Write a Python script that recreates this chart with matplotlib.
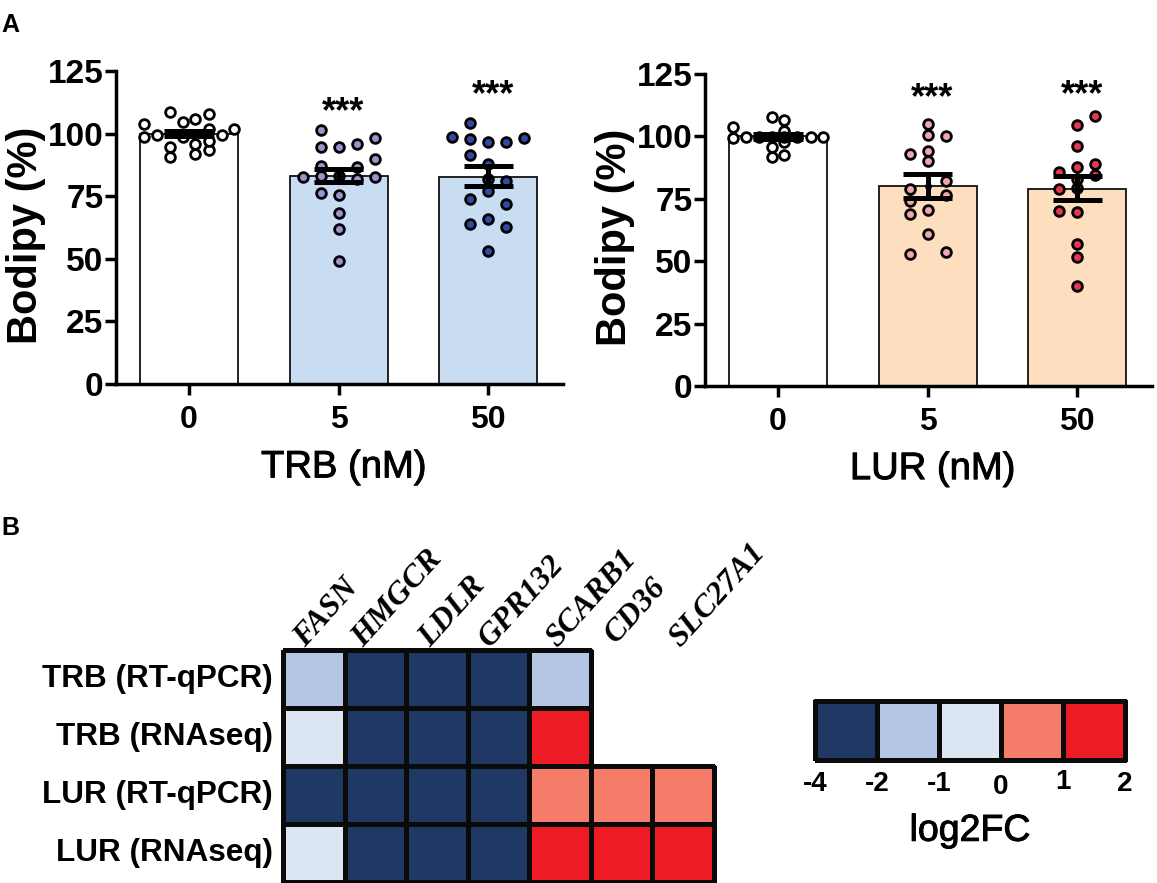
import numpy as np
import matplotlib
matplotlib.use("Agg")
import matplotlib.pyplot as plt
import matplotlib.patheffects as pe
from matplotlib.colors import ListedColormap, BoundaryNorm

plt.rcParams['font.family'] = ['Liberation Sans', 'DejaVu Sans']

W, H = 1157, 883

# donnees panel A
doses = ['0', '5', '50']
trb_means = [100, 83, 82.5]
trb_low = [99, 80.5, 79]
trb_high = [101, 86, 87]
lur_means = [100, 80, 79]
lur_low = [99, 75.5, 74.5]
lur_high = [101, 85, 84]

trb0_y = [103.7, 98.7, 99.5, 108.7, 104.8, 105.9, 107.7, 101.7, 99.5, 101.7, 94.7, 90.7, 95.7, 91.7, 93.3, 97, 98.7]
trb0_dx = [-.30, -.30, -.213, -.127, -.04, .043, .132, .132, .218, .304, -.127, -.127, .043, .043, .132, .132, -.04]
trb5_y = [101.5, 94.7, 94.7, 95.7, 98.1, 89.7, 87, 86.7, 82.7, 83, 83, 82, 82.7, 76.4, 75.5, 68.4, 62, 49]
trb5_dx = [-.12, -.12, 0, .12, .24, .24, -.12, .12, -.24, -.12, 0, .12, .24, -.12, 0, 0, 0, 0]
trb50_y = [104.3, 98.7, 97.7, 96.8, 96.8, 98.4, 91.5, 88, 81.7, 81, 77, 73.9, 72, 63.7, 65.7, 62.7, 53.3]
trb50_dx = [-.12, -.24, -.12, 0, .12, .24, -.12, 0, 0, .12, 0, -.12, .12, -.12, 0, .12, 0]

lur0_y = [103.9, 99.3, 99.6, 107.9, 106.7, 102.3, 95.6, 91.6, 97.6, 92.6, 99.6, 99.6, 99.6, 99.6, 99.6, 99.6]
lur0_dx = [-.30, -.30, -.216, -.04, .043, .043, -.04, -.04, .043, .043, .218, .304, -.127, -.04, .043, .13]
lur5_y = [105, 100.7, 100.3, 92.9, 94, 90, 82.2, 78.8, 76.4, 74.1, 69, 70.5, 60.7, 52.7, 53.6]
lur5_dx = [0, 0, .12, -.12, 0, 0, .12, -.12, .12, -.12, -.12, 0, 0, -.12, .12]
lur50_y = [108, 104.7, 96, 88.9, 87.8, 85.9, 84.6, 82.8, 79.2, 79.1, 70.1, 69.7, 57, 51.7, 40.2]
lur50_dx = [.12, 0, 0, .12, 0, -.12, .12, 0, 0, -.12, -.12, 0, 0, 0, 0]

# donnees panel B
genes = ['FASN', 'HMGCR', 'LDLR', 'GPR132', 'SCARB1', 'CD36', 'SLC27A1']
rows = ['TRB (RT-qPCR)', 'TRB (RNAseq)', 'LUR (RT-qPCR)', 'LUR (RNAseq)']
log2fc = np.array([
    [-1.5, -3, -3, -3, -1.5, np.nan, np.nan],
    [-0.5, -3, -3, -3, 1.5, np.nan, np.nan],
    [-3, -3, -3, -3, 0.5, 0.5, 0.5],
    [-0.5, -3, -3, -3, 1.5, 1.5, 1.5],
])
fc_bins = [-4, -2, -1, 0, 1, 2]
fc_colors = ['#1F3864', '#B4C6E3', '#DCE6F2', '#F47C68', '#ED1C24']

stroke = [pe.withStroke(linewidth=0.7, foreground='black')]


def px_axes(fig, x0, y0, x1, y1):
    # rectangle en pixels image (y vers le bas)
    return fig.add_axes([x0 / W, 1 - y1 / H, (x1 - x0) / W, (y1 - y0) / H])


def bar_panel(ax, means, low, high, ys, dxs, bar_cols, pt_cols, xlabel, stars):
    x = np.arange(3)
    ax.bar(x, means, width=0.655, color=bar_cols, edgecolor='#111111', linewidth=1.3, zorder=1)
    for i in range(3):
        xs = i + np.array(dxs[i])
        ax.plot(xs, ys[i], 'o', ms=7, mfc=pt_cols[i], mec='black', mew=2, zorder=2, clip_on=False)
        ax.plot([i - 0.165, i + 0.165], [low[i], low[i]], color='black', lw=3.6, zorder=3, solid_capstyle='butt')
        ax.plot([i - 0.165, i + 0.165], [high[i], high[i]], color='black', lw=3.6, zorder=3, solid_capstyle='butt')
        ax.plot([i, i], [low[i], high[i]], color='black', lw=3.6, zorder=3)
        ax.plot(i, means[i], 'o', ms=4, color='black', zorder=3)
    for i, y in stars:
        ax.text(i + 0.03, y, '***', ha='center', va='center', fontsize=26, fontweight='bold')
    ax.set_xlim(-0.488, 2.50)
    ax.set_ylim(0, 125)
    ax.set_xticks(x)
    ax.set_xticklabels(doses)
    ax.set_yticks([0, 25, 50, 75, 100, 125])
    ax.tick_params(axis='y', length=8, width=2.5, labelsize=24, pad=1)
    ax.tick_params(axis='x', length=8, width=2.5, labelsize=23, pad=7)
    for t in ax.get_xticklabels() + ax.get_yticklabels():
        t.set_fontweight('bold')
    ax.spines['top'].set_visible(False)
    ax.spines['right'].set_visible(False)
    ax.spines['left'].set_linewidth(2.5)
    ax.spines['bottom'].set_linewidth(2.5)
    ax.text(1.035, -33.3, xlabel, ha='center', va='center', fontsize=27.5, path_effects=stroke)
    ax.set_ylabel('Bodipy (%)', fontsize=30, fontweight='bold', labelpad=1, y=0.475)
    ax.patch.set_alpha(0)


fig = plt.figure(figsize=(W / 100, H / 100), dpi=100)

ax1 = px_axes(fig, 116, 71, 563, 384)
bar_panel(ax1, trb_means, trb_low, trb_high, [trb0_y, trb5_y, trb50_y], [trb0_dx, trb5_dx, trb50_dx],
          ['white', '#C9DDF2', '#C9DDF2'], ['white', '#9C94CE', '#2F4AA5'], 'TRB (nM)',
          [(1, 108.5), (2, 115)])

ax2 = px_axes(fig, 705, 74, 1152, 386)
bar_panel(ax2, lur_means, lur_low, lur_high, [lur0_y, lur5_y, lur50_y], [lur0_dx, lur5_dx, lur50_dx],
          ['white', '#FDDFC0', '#FDDFC0'], ['white', '#EFA6AE', '#E8384F'], 'LUR (nM)',
          [(1, 115), (2, 116.5)])

# heatmap, ligne par ligne pour ne pas tracer les cases vides
cmap = ListedColormap(fc_colors)
norm = BoundaryNorm(fc_bins, cmap.N)
ax3 = px_axes(fig, 283, 650, 714, 882)
for i in range(len(rows)):
    n = int(np.sum(~np.isnan(log2fc[i])))
    ax3.pcolormesh(np.arange(n + 1), [i, i + 1], log2fc[i:i + 1, :n], cmap=cmap, norm=norm,
                   edgecolors='#0a0a0a', linewidth=2.2, clip_on=False)
ax3.set_xlim(0, 7)
ax3.set_ylim(4, 0)
ax3.axis('off')
gene_dx = [.36, .30, .39, .36, .45, .41, .46]
gene_dy = [-.03, -.03, -.03, -.03, -.03, -.10, -.03]
for j, g in enumerate(genes):
    ax3.text(j + gene_dx[j], gene_dy[j], g, rotation=48, rotation_mode='anchor', ha='left', va='baseline',
             fontsize=23, fontweight='bold', fontstyle='italic', family='Liberation Serif')
for i, r in enumerate(rows):
    ax3.text(-0.16, i + 0.5, r, ha='right', va='center', fontsize=22.7, fontweight='bold')

# echelle de couleur
ax4 = px_axes(fig, 815, 701, 1125, 760)
levels = np.array([[-3, -1.5, -0.5, 0.5, 1.5]])
ax4.pcolormesh(levels, cmap=cmap, norm=norm, edgecolors='#0a0a0a', linewidth=2.4, clip_on=False)
ax4.set_xlim(0, 5)
ax4.set_ylim(0, 1)
ax4.axis('off')
fc_labels = ['-4', '-2', '-1', '0', '1', '2']
fc_label_y = [-0.41, -0.41, -0.41, -0.45, -0.37, -0.41]
for k, lab in enumerate(fc_labels):
    ax4.text(k, fc_label_y[k], lab, ha='center', va='center', fontsize=20, fontweight='bold')
ax4.text(2.5, -1.2, 'log2FC', ha='center', va='center', fontsize=27, path_effects=stroke)

fig.text(1 / W, 1 - 25 / H, 'A', fontsize=18, fontweight='bold', va='center')
fig.text(1 / W, 1 - 528 / H, 'B', fontsize=18, fontweight='bold', va='center')

fig.savefig('out.png', dpi=100)
